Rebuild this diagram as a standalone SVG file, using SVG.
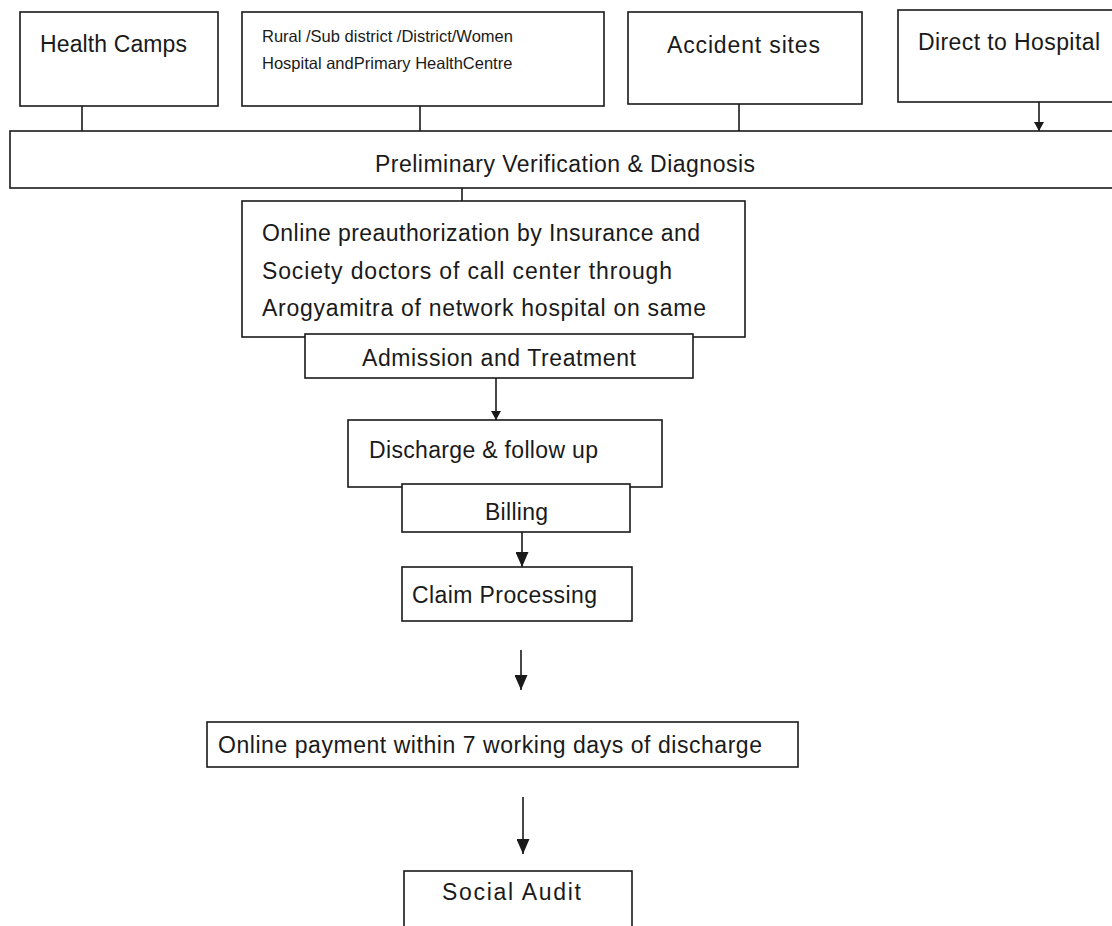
<svg xmlns="http://www.w3.org/2000/svg" width="1112" height="926" viewBox="0 0 1112 926">
<style>
.box{fill:#fff;stroke:#1a1a1a;stroke-width:1.6}
.t{font-family:"Liberation Sans",Arial,sans-serif;fill:#1a1a1a;font-size:23px}
.ts{font-family:"Liberation Sans",Arial,sans-serif;fill:#1a1a1a;font-size:16.5px}
.c{stroke:#1a1a1a;stroke-width:1.6;fill:none}
</style>
<defs>
<marker id="big" markerUnits="userSpaceOnUse" markerWidth="16" markerHeight="13" refX="15" refY="6.5" orient="auto"><path d="M0,0 L15,6.5 L0,13 z" fill="#1a1a1a"/></marker>
<marker id="small" markerUnits="userSpaceOnUse" markerWidth="10" markerHeight="10" refX="9" refY="5" orient="auto"><path d="M0,0 L9,5 L0,10 z" fill="#1a1a1a"/></marker>
</defs>
<rect width="1112" height="926" fill="#fff"/>
<g id="connectors">
<line class="c" x1="82" y1="106" x2="82" y2="132"/>
<line class="c" x1="420" y1="106" x2="420" y2="132"/>
<line class="c" x1="739" y1="104" x2="739" y2="132"/>
<line class="c" x1="1039" y1="102" x2="1039" y2="131" marker-end="url(#small)"/>
<line class="c" x1="462" y1="188" x2="462" y2="201"/>
<line class="c" x1="496" y1="378" x2="496" y2="420" marker-end="url(#small)"/>
<line class="c" x1="522" y1="520" x2="522" y2="567" marker-end="url(#big)"/>
<line class="c" x1="521" y1="650" x2="521" y2="690" marker-end="url(#big)"/>
<line class="c" x1="523" y1="797" x2="523" y2="854" marker-end="url(#big)"/>
</g>
<g id="health-camps"><rect class="box" x="20" y="12" width="198" height="94"/><text class="t" x="40" y="52" textLength="147">Health Camps</text></g>
<g id="rural"><rect class="box" x="242" y="12" width="362" height="94"/><text class="ts" x="262" y="42">Rural /Sub district /District/Women</text><text class="ts" x="262" y="69">Hospital andPrimary HealthCentre</text></g>
<g id="accident"><rect class="box" x="628" y="12" width="234" height="92"/><text class="t" x="667" y="53" textLength="153">Accident sites</text></g>
<g id="direct"><rect class="box" x="898" y="10" width="220" height="92"/><text class="t" x="918" y="50" textLength="182">Direct to Hospital</text></g>
<g id="preliminary"><rect class="box" x="10" y="131" width="1110" height="57"/><text class="t" x="375" y="172" textLength="380">Preliminary Verification &amp; Diagnosis</text></g>
<g id="preauth"><rect class="box" x="242" y="201" width="503" height="136"/>
<text class="t" x="262" y="241" textLength="438">Online preauthorization by Insurance and</text>
<text class="t" x="262" y="279" textLength="410">Society doctors of call center through</text>
<text class="t" x="262" y="316" textLength="444">Arogyamitra of network hospital on same</text></g>
<g id="admission"><rect class="box" x="305" y="334" width="388" height="44"/><text class="t" x="362" y="366" textLength="274">Admission and Treatment</text></g>
<g id="discharge"><rect class="box" x="348" y="420" width="314" height="67"/><text class="t" x="369" y="458" textLength="229">Discharge &amp; follow up</text></g>
<g id="billing"><rect class="box" x="402" y="484" width="228" height="48"/><text class="t" x="485" y="520" textLength="63">Billing</text></g>
<g id="claim"><rect class="box" x="402" y="567" width="230" height="54"/><text class="t" x="412" y="603" textLength="185">Claim Processing</text></g>
<g id="payment"><rect class="box" x="207" y="722" width="591" height="45"/><text class="t" x="218" y="753" textLength="544">Online payment within 7 working days of discharge</text></g>
<g id="social-audit"><rect class="box" x="404" y="871" width="228" height="70"/><text class="t" x="442" y="900" textLength="139">Social Audit</text></g>
</svg>
